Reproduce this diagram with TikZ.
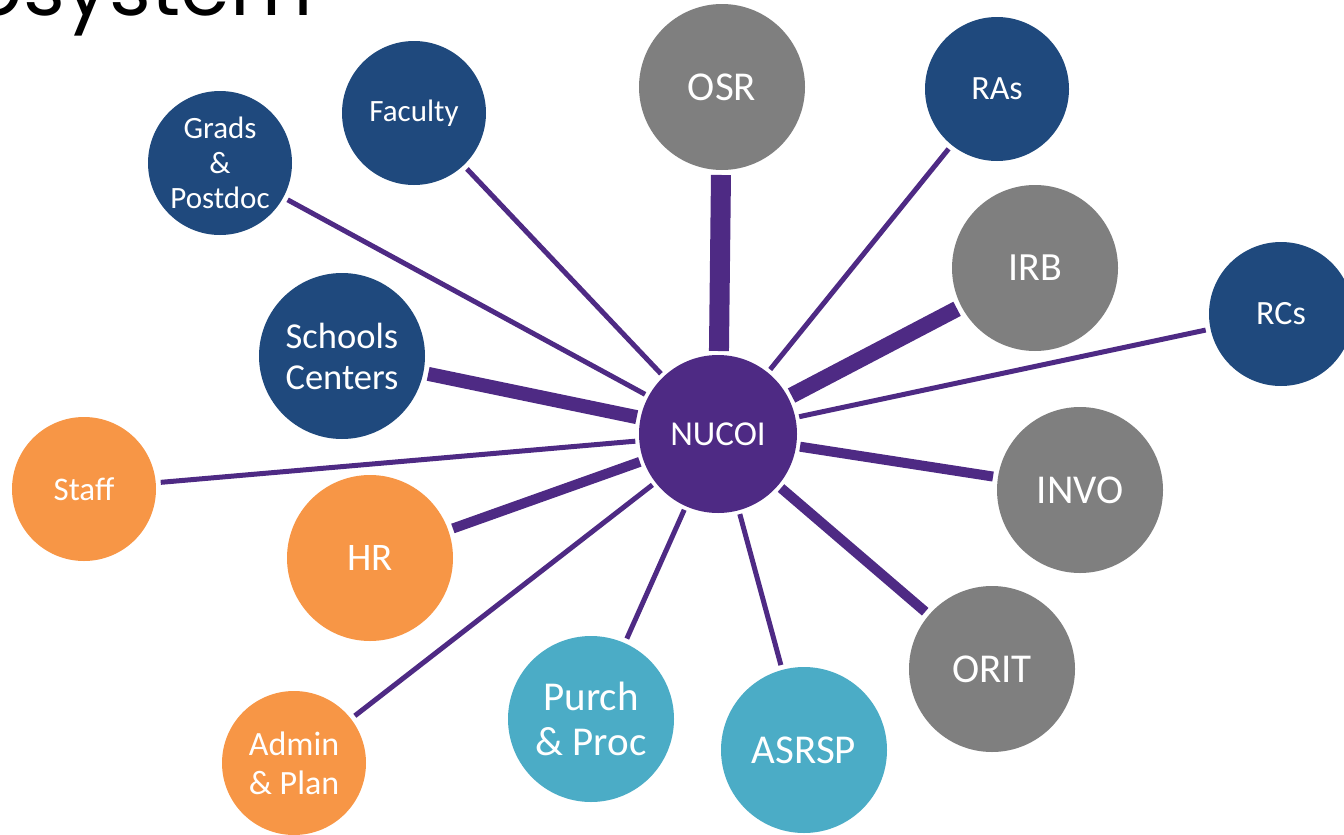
\documentclass[tikz,border=0pt]{standalone}
\usepackage{fontspec}
\setmainfont{Carlito}
\newfontfamily\titlefont{Poppins}
\definecolor{nuPurple}{RGB}{78,42,132}
\definecolor{cNavy}{RGB}{31,73,125}
\definecolor{cGray}{RGB}{127,127,127}
\definecolor{cOrange}{RGB}{247,150,70}
\definecolor{cTeal}{RGB}{75,172,198}
\begin{document}
\begin{tikzpicture}[x=1pt,y=-1pt,
  hub/.style={circle, fill=nuPurple, minimum size=158pt, inner sep=0pt, outer sep=4pt, text=white, font=\fontsize{35}{40}\selectfont},
  bigc/.style={circle, minimum size=166pt, inner sep=0pt, outer sep=5pt, text=white, align=center, font=\fontsize{41}{45}\selectfont},
  smallc/.style={circle, minimum size=144pt, inner sep=0pt, outer sep=5pt, text=white, align=center, font=\fontsize{34}{39}\selectfont},
  fillnavy/.style={fill=cNavy},
  fillgray/.style={fill=cGray},
  fillorange/.style={fill=cOrange},
  fillteal/.style={fill=cTeal},
  link/.style={draw=nuPurple, line width=5pt},
  linkA/.style={draw=nuPurple, line width=20pt},
  linkB/.style={draw=nuPurple, line width=16pt},
  linkC/.style={draw=nuPurple, line width=14pt},
  linkD/.style={draw=nuPurple, line width=10pt},
]
\useasboundingbox (0,0) rectangle (1344,835);

\begin{scope}
\clip (0,0) rectangle (1344,835);
\node[anchor=base east, inner sep=0pt, font=\titlefont\fontsize{80}{90}\selectfont] (title) at (313,16) {Ecosystem};
\end{scope}

\node[hub] (nucoi) at (718,434) {NUCOI};

\node[bigc, fillgray] (osr) at (722,87) {OSR};
\node[smallc, fillnavy, font=\fontsize{34}{39}\selectfont] (ras) at (997,89) {RAs};
\node[bigc, fillgray, font=\fontsize{40}{45}\selectfont] (irb) at (1035,268) {IRB};
\node[smallc, fillnavy, font=\fontsize{34}{39}\selectfont] (rcs) at (1281,314) {RCs};
\node[bigc, fillgray] (invo) at (1080,490) {INVO};
\node[bigc, fillgray] (orit) at (992,669) {ORIT};
\node[bigc, fillteal] (asrsp) at (804,750) {ASRSP};
\node[bigc, fillteal] (purch) at (591,719) {Purch\\\& Proc};
\node[smallc, fillorange] (admin) at (294,763) {Admin\\\& Plan};
\node[bigc, fillorange, font=\fontsize{39}{44}\selectfont] (hr) at (370,558) {HR};
\node[smallc, fillorange, font=\fontsize{33}{38}\selectfont] (staff) at (84,489) {Staff};
\node[bigc, fillnavy, font=\fontsize{36.5}{41}\selectfont] (schools) at (342,356) {Schools\\Centers};
\node[smallc, fillnavy, font=\fontsize{31}{35}\selectfont] (grads) at (220,163) {Grads\\\&\\Postdoc};
\node[smallc, fillnavy, font=\fontsize{31}{35}\selectfont] (faculty) at (414,113) {Faculty};

\draw[linkA] (osr) -- (nucoi);
\draw[link] (ras) -- (nucoi);
\draw[linkB] (irb) -- (nucoi);
\draw[link] (rcs) -- (nucoi);
\draw[linkD] (invo) -- (nucoi);
\draw[linkD] (orit) -- (nucoi);
\draw[link] (asrsp) -- (nucoi);
\draw[link] (purch) -- (nucoi);
\draw[link] (admin) -- (nucoi);
\draw[linkD] (hr) -- (nucoi);
\draw[link] (staff) -- (nucoi);
\draw[linkC] (schools) -- (nucoi);
\draw[link] (grads) -- (nucoi);
\draw[link] (faculty) -- (nucoi);
\end{tikzpicture}
\end{document}
